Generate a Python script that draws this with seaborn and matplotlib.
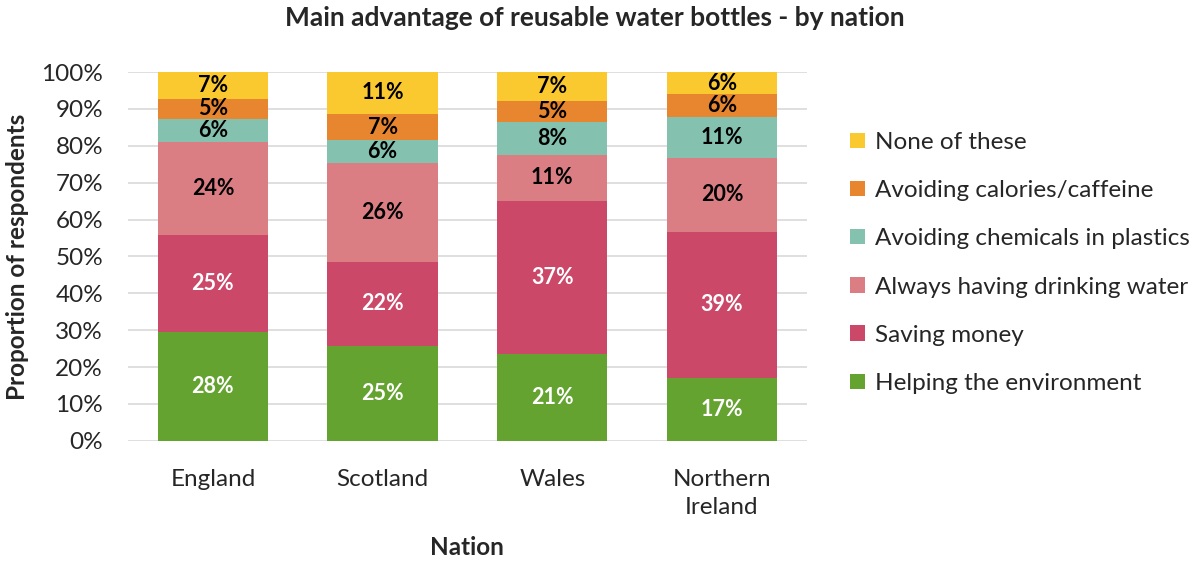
import matplotlib
matplotlib.use("Agg")
import matplotlib.pyplot as plt
import seaborn as sns
import pandas as pd
import numpy as np
from matplotlib.patches import Patch

nations = ["England", "Scotland", "Wales", "Northern\nIreland"]
categories = ["Helping the environment", "Saving money", "Always having drinking water",
              "Avoiding chemicals in plastics", "Avoiding calories/caffeine", "None of these"]
helping_env = [28, 25, 21, 17]
saving_money = [25, 22, 37, 39]
drinking_water = [24, 26, 11, 20]
chemicals = [6, 6, 8, 11]
calories = [5, 7, 5, 6]
none_of_these = [7, 11, 7, 6]

colors = ["#64A330", "#CB4869", "#DB7E84", "#84C1AF", "#E8852F", "#FAC92F"]
label_colors = ["white", "white", "black", "black", "black", "black"]

sns.set_theme(style="white")
plt.rcParams["font.family"] = ["Lato", "DejaVu Sans"]

values = np.array([helping_env, saving_money, drinking_water, chemicals, calories, none_of_these], dtype=float)
# 100% stacked: each nation's shares are scaled to sum to 100
shares = values / values.sum(axis=0) * 100
cum = shares.cumsum(axis=0)

fig = plt.figure(figsize=(11.97, 5.63), dpi=100)
ax = fig.add_axes([0.107, 0.217, 0.567, 0.655])

# Draw cumulative totals from the top layer down so each bar covers the ones above
for i in range(len(categories) - 1, -1, -1):
    df = pd.DataFrame({"nation": nations, "top": cum[i]})
    sns.barplot(data=df, x="nation", y="top", color=colors[i], saturation=1,
                width=0.65, ax=ax, linewidth=0, zorder=2)

for i in range(len(categories)):
    for j in range(len(nations)):
        mid = cum[i, j] - shares[i, j] / 2
        ax.text(j, mid, f"{int(values[i, j])}%", ha="center", va="center",
                fontsize=15.5, fontweight="bold", color=label_colors[i], zorder=3)

ax.set_ylim(0, 100)
ax.set_xlim(-0.5, 3.5)
ax.set_yticks(np.arange(0, 101, 10))
ax.set_yticklabels([f"{v}%" for v in range(0, 101, 10)], fontsize=17.5)
ax.tick_params(axis="x", labelsize=17.5, length=0, pad=20)
ax.tick_params(axis="y", length=0, pad=18)
for t in ax.get_xticklabels():
    t.set_linespacing(1.45)
ax.yaxis.grid(True, color="#D9D9D9", linewidth=1.2, zorder=0)
ax.set_axisbelow(True)
for s in ax.spines.values():
    s.set_visible(False)

ax.set_xlabel("Nation", fontsize=17.5, fontweight="bold", labelpad=13)
ax.set_ylabel("Proportion of respondents", fontsize=17.5, fontweight="bold", labelpad=9)
fig.suptitle("Main advantage of reusable water bottles - by nation", fontsize=19,
             fontweight="bold", x=0.497, y=0.99)

handles = [Patch(facecolor=colors[i], edgecolor="none", label=categories[i])
           for i in range(len(categories) - 1, -1, -1)]
fig.legend(handles=handles, loc="center left", bbox_to_anchor=(0.692, 0.533),
           frameon=False, fontsize=17.5, handlelength=0.6, handleheight=0.6,
           handletextpad=0.4, labelspacing=1.12)

fig.savefig("out.png", dpi=100)
